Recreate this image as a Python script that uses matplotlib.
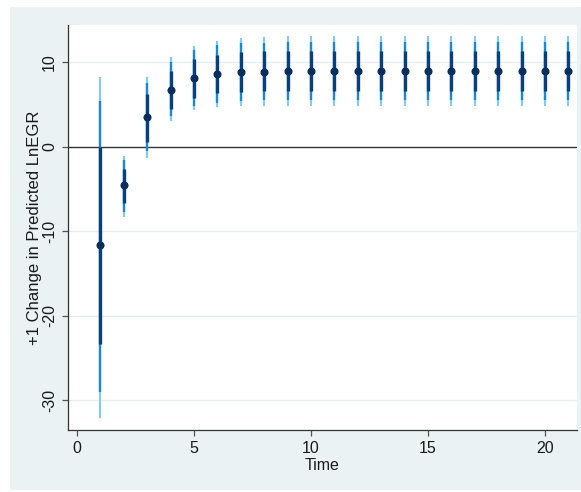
import matplotlib
matplotlib.use("Agg")
import matplotlib.pyplot as plt
from matplotlib.patches import Rectangle

plt.rcParams["font.family"] = ["Liberation Sans", "DejaVu Sans"]

# marginal effect over time with three confidence bands (outer, middle, inner)
time = list(range(1, 22))
estimate = [-11.7, -4.6, 3.5, 6.7, 8.1, 8.6, 8.8, 8.85, 8.9, 8.9, 8.9, 8.9, 8.9, 8.9,
            8.9, 8.9, 8.9, 8.9, 8.9, 8.9, 8.9]
outer_lo = [-32.1, -8.3, -1.3, 3.0, 4.3, 4.7, 4.85, 4.85, 4.85, 4.85, 4.85, 4.85, 4.85,
            4.85, 4.85, 4.85, 4.85, 4.85, 4.85, 4.85, 4.85]
outer_hi = [8.2, -1.1, 8.2, 10.6, 11.9, 12.5, 12.9, 13.0, 13.05, 13.05, 13.05, 13.05,
            13.05, 13.05, 13.05, 13.05, 13.05, 13.05, 13.05, 13.05, 13.05]
mid_lo = [-29.0, -7.7, -0.55, 3.6, 4.8, 5.2, 5.4, 5.5, 5.55, 5.55, 5.55, 5.55, 5.55,
          5.55, 5.55, 5.55, 5.55, 5.55, 5.55, 5.55, 5.55]
mid_hi = [5.4, -1.6, 7.5, 10.0, 11.4, 12.0, 12.3, 12.3, 12.35, 12.35, 12.35, 12.35,
          12.35, 12.35, 12.35, 12.35, 12.35, 12.35, 12.35, 12.35, 12.35]
inner_lo = [-23.4, -6.7, 0.6, 4.5, 5.8, 6.4, 6.5, 6.55, 6.6, 6.6, 6.6, 6.6, 6.6, 6.6,
            6.6, 6.6, 6.6, 6.6, 6.6, 6.6, 6.6]
inner_hi = [0.0, -2.6, 6.2, 8.9, 10.4, 10.9, 11.2, 11.3, 11.35, 11.35, 11.35, 11.35,
            11.35, 11.35, 11.35, 11.35, 11.35, 11.35, 11.35, 11.35, 11.35]

xticks = [0, 5, 10, 15, 20]
yticks = [-30, -20, -10, 0, 10]

region_bg = "#EAF2F3"
text_col = "#1a1a1a"

fig = plt.figure(figsize=(5.81, 4.92), dpi=100)
fig.patch.set_facecolor("white")
fig.patches.append(Rectangle((10 / 581, 2 / 492), 571 / 581, 483 / 492,
                             transform=fig.transFigure, facecolor=region_bg,
                             edgecolor="none", zorder=-5))

ax = fig.add_axes([68 / 581, 62 / 492, 509 / 581, 405 / 492])
ax.set_facecolor("white")

for y in yticks:
    if y != 0:
        ax.axhline(y, color="#E3EEF2", lw=1.0, zorder=1)
ax.axhline(0, color="#333333", lw=1.0, zorder=2)

ax.vlines(time, outer_lo, outer_hi, color="#7FCDF4", lw=1.5, zorder=3)
ax.vlines(time, mid_lo, mid_hi, color="#1A88D2", lw=1.7, zorder=4)
ax.vlines(time, inner_lo, inner_hi, color="#0B3F7C", lw=2.4, zorder=5)
ax.plot(time, estimate, "o", color="#0A2E5C", ms=4.8, zorder=6)

ax.set_xlim(-0.38, 21.37)
ax.set_ylim(-33.55, 14.4)
ax.set_xticks(xticks)
ax.set_yticks(yticks)
ax.set_yticklabels([str(v) for v in yticks], rotation=90, va="center")

for side in ("top", "right"):
    ax.spines[side].set_visible(False)
for side in ("left", "bottom"):
    ax.spines[side].set_color("#333333")
    ax.spines[side].set_linewidth(0.9)
ax.tick_params(axis="both", direction="out", length=4, width=0.9, color="#555555",
               labelsize=11.5, labelcolor=text_col, pad=4)

ax.set_xlabel("Time", fontsize=11.5, color=text_col, labelpad=1)
ax.set_ylabel("+1 Change in Predicted LnEGR", fontsize=12, color=text_col, labelpad=0)

fig.savefig("out.png", dpi=100)
